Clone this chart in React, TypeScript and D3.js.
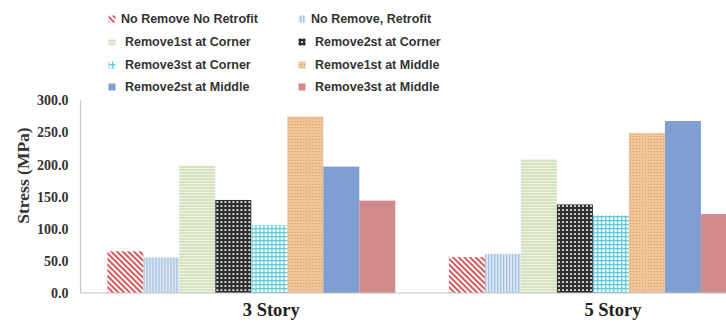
import React from "react";
import * as d3 from "d3";

// Stress per model and removal scenario
const categories = ["3 Story", "5 Story"];
const seriesNames = [
  "No Remove No Retrofit",
  "No Remove, Retrofit",
  "Remove1st at Corner",
  "Remove2st at Corner",
  "Remove3st at Corner",
  "Remove1st at Middle",
  "Remove2st at Middle",
  "Remove3st at Middle",
];
const story3Values = [65, 55.5, 198, 145, 106, 275, 197, 144];
const story5Values = [56, 61, 209, 138, 121, 249, 268, 123];
const yTicks = [0, 50, 100, 150, 200, 250, 300];

const W = 726;
const H = 322;

const fills = [
  "url(#pDiagRed)",
  "url(#pVertBlue)",
  "url(#pHorzGreen)",
  "url(#pDarkGrid)",
  "url(#pCyanGrid)",
  "url(#pOrangeDots)",
  "#7F9ED2",
  "#D28B8C",
];

function Patterns() {
  return (
    <defs>
      <pattern id="pDiagRed" patternUnits="userSpaceOnUse" width={4} height={4} patternTransform="rotate(-45)">
        <rect width={4} height={4} fill="#ffffff" />
        <rect width={2} height={4} fill="#D9595B" />
      </pattern>
      <pattern id="pVertBlue" patternUnits="userSpaceOnUse" width={3} height={3}>
        <rect width={3} height={3} fill="#E3ECF6" />
        <rect width={1.4} height={3} fill="#A2BFDF" />
      </pattern>
      <pattern id="pHorzGreen" patternUnits="userSpaceOnUse" width={3} height={3}>
        <rect width={3} height={3} fill="#D5E4BE" />
        <rect width={3} height={1} fill="#EEF4E5" />
      </pattern>
      <pattern id="pDarkGrid" patternUnits="userSpaceOnUse" width={4} height={4}>
        <rect width={4} height={4} fill="#2E2E2E" />
        <rect x={1.2} y={1.2} width={1.8} height={1.8} fill="#F2F2F2" />
      </pattern>
      <pattern id="pCyanGrid" patternUnits="userSpaceOnUse" width={4} height={4}>
        <rect width={4} height={4} fill="#ffffff" />
        <rect width={4} height={1.3} fill="#5EC9DC" />
        <rect width={1.3} height={4} fill="#5EC9DC" />
      </pattern>
      <pattern id="pOrangeDots" patternUnits="userSpaceOnUse" width={3} height={3}>
        <rect width={3} height={3} fill="#F0C597" />
        <rect x={1} y={1} width={1} height={1} fill="#D69C66" />
      </pattern>
    </defs>
  );
}

export default function App() {
  const plotLeft = 80.5;
  const plotBottom = 293;
  const plotTop = 100.5;
  const bandStep = 341.6;

  const x0 = d3
    .scaleBand<string>()
    .domain(categories)
    .range([plotLeft, plotLeft + bandStep * categories.length])
    .paddingInner(0.157)
    .paddingOuter(0.0785);

  const x1 = d3
    .scaleBand<string>()
    .domain(seriesNames)
    .range([0, x0.bandwidth()]);

  const y = d3.scaleLinear().domain([0, 300]).range([plotBottom, plotTop]);

  const groups = [story3Values, story5Values];

  // legend layout: two columns, four rows
  const legendCols = [108.5, 298.5];
  const legendRows = [19, 42, 65, 87];

  return (
    <div style={{ position: "absolute", left: 0, top: 0 }}>
      <svg width={W} height={H} style={{ display: "block", background: "#fff" }}>
        <Patterns />

        {/* value axis */}
        <line x1={plotLeft} x2={plotLeft} y1={plotTop} y2={plotBottom} stroke="#C4C4C4" strokeWidth={1.2} />

        {/* bars */}
        {categories.map((cat, gi) => (
          <g key={cat} transform={`translate(${x0(cat)},0)`}>
            {groups[gi].map((v, si) => (
              <rect
                key={si}
                x={x1(seriesNames[si])}
                y={y(v)}
                width={x1.bandwidth()}
                height={y(0) - y(v)}
                fill={fills[si]}
              />
            ))}
          </g>
        ))}

        {/* category axis baseline */}
        <line x1={plotLeft} x2={W} y1={plotBottom} y2={plotBottom} stroke="#C4C4C4" strokeWidth={1.2} />

        {/* y tick labels */}
        {yTicks.map((t) => (
          <text
            key={t}
            x={68.5}
            y={y(t)}
            dy="0.35em"
            textAnchor="end"
            fontFamily="'Liberation Serif', 'Times New Roman', serif"
            fontWeight="bold"
            fontSize={14}
            fill="#333"
          >
            {t.toFixed(1)}
          </text>
        ))}

        {/* y title */}
        <text
          transform={`translate(29,175.5) rotate(-90)`}
          textAnchor="middle"
          fontFamily="'Liberation Serif', 'Times New Roman', serif"
          fontWeight="bold"
          fontSize={17.5}
          fill="#333"
        >
          Stress (MPa)
        </text>

        {/* category labels */}
        {categories.map((cat) => (
          <text
            key={cat}
            x={(x0(cat) ?? 0) + x0.bandwidth() / 2 + 20}
            y={316}
            textAnchor="middle"
            fontFamily="'Liberation Serif', 'Times New Roman', serif"
            fontWeight="bold"
            fontSize={18.5}
            fill="#222"
          >
            {cat}
          </text>
        ))}

        {/* legend */}
        {seriesNames.map((name, i) => {
          const col = i % 2;
          const row = Math.floor(i / 2);
          const lx = legendCols[col];
          const ly = legendRows[row];
          const textOffset = row === 0 ? 12.5 : 16.5;
          return (
            <g key={name}>
              <rect x={lx} y={ly - 3.5} width={7} height={7} fill={fills[i]} />
              <text
                x={lx + textOffset}
                y={ly}
                dy="0.35em"
                fontFamily="'Liberation Sans', Arial, sans-serif"
                fontWeight="bold"
                fontSize={12.5}
                fill="#333"
              >
                {name}
              </text>
            </g>
          );
        })}
      </svg>
    </div>
  );
}
